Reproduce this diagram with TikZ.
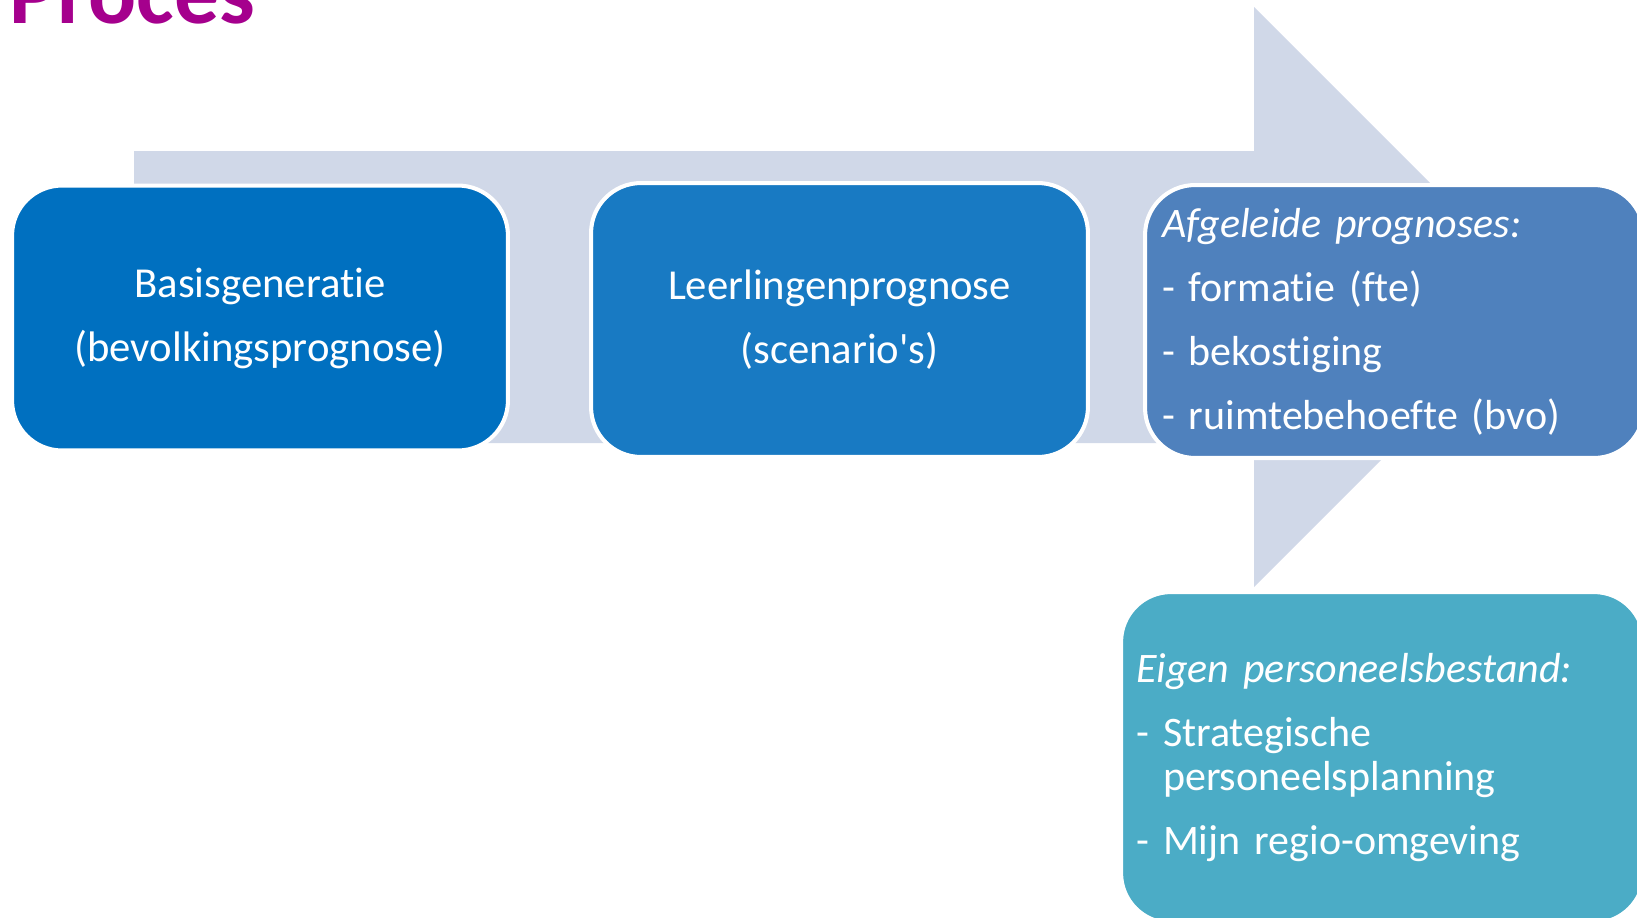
\documentclass[tikz,border=0pt]{standalone}
\usepackage{fontspec}
\setmainfont{Carlito}[Ligatures={NoCommon}]
\usetikzlibrary{calc}

\definecolor{arrowgrey}{HTML}{D0D8E8}
\definecolor{procespurple}{HTML}{A5008D}
\definecolor{basisblue}{HTML}{0070C0}
\definecolor{leerlingblue}{HTML}{187AC3}
\definecolor{afgeleidblue}{HTML}{4F81BD}
\definecolor{personeelaqua}{HTML}{4BACC6}

\begin{document}
\begin{tikzpicture}[x=0.02cm,y=-0.02cm,every node/.style={outer sep=0pt}]
\tikzstyle{stepbox}=[draw=white,line width=2.3pt,rounded corners=1cm,text=white,inner sep=0pt,font=\fontsize{24.3}{25.3}\selectfont]
\tikzstyle{listbox}=[stepbox,align=left,font=\fontsize{23.9}{25.3}\selectfont]

\useasboundingbox (0,0) rectangle (1637,917);

% big arrow behind the steps
\fill [arrowgrey] (134,151) -- (1254,151) -- (1254,7) -- (1544,297) -- (1254,587) -- (1254,443) -- (134,443) -- cycle;

\node (title) [anchor=base west,inner sep=0pt,text=procespurple,font=\fontsize{51}{60}\selectfont\bfseries] at (10,23) {Proces};

\node (basis) [stepbox,fill=basisblue,align=center,minimum width=9.92cm,minimum height=5.3cm] at (260,318) {Basisgeneratie\\[0.39cm](bevolkingsprognose)};

\node (leerling) [stepbox,fill=leerlingblue,align=center,minimum width=9.94cm,minimum height=5.48cm] at (839.5,320) {Leerlingenprognose\\[0.39cm](scenario\textquotesingle s)};

\node (afgeleid) [listbox,fill=afgeleidblue,inner xsep=0.34cm,text width=9.3cm,minimum height=5.46cm] at (1394.5,321.5) {\textit{Afgeleide prognoses:}\\[0.39cm]- formatie (fte)\\[0.39cm]- bekostiging\\[0.39cm]- ruimtebehoefte (bvo)};

\node (personeel) [listbox,fill=personeelaqua,inner xsep=0.3cm,text width=9.86cm,minimum height=6.62cm] at (1382.5,757.5) {\textit{Eigen personeelsbestand:}\\[0.39cm]\makebox[0.54cm][l]{-}Strategische\\\hspace*{0.54cm}personeelsplanning\\[0.39cm]\makebox[0.54cm][l]{-}Mijn regio-omgeving};
\end{tikzpicture}
\end{document}
